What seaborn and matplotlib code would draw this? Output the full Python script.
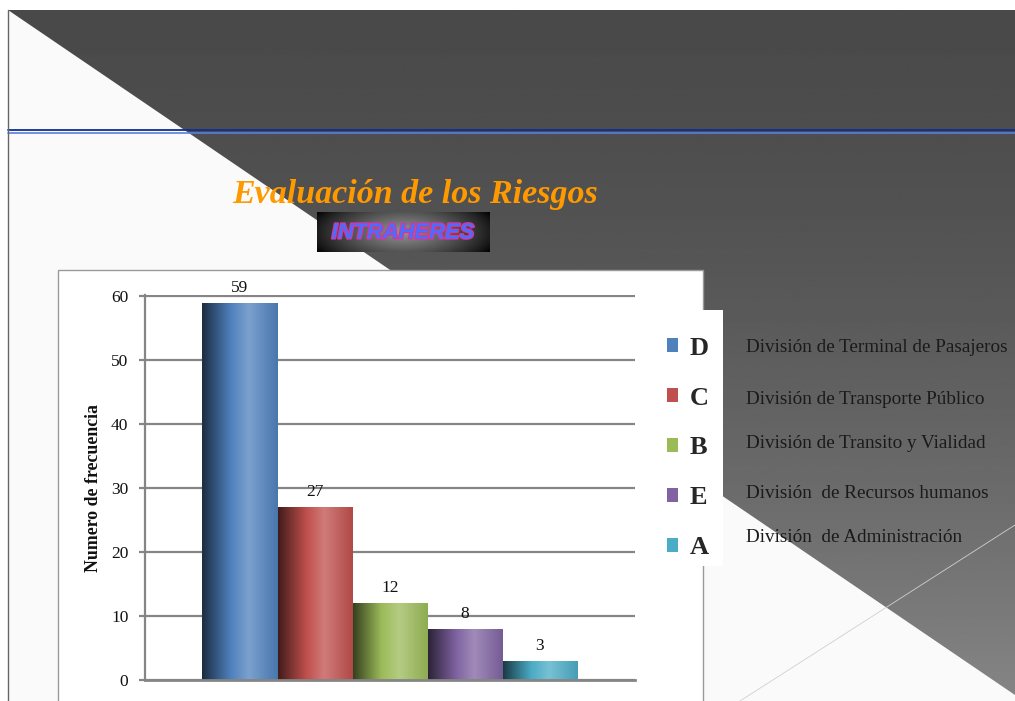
import matplotlib
matplotlib.use("Agg")
import matplotlib.pyplot as plt
import matplotlib.patheffects as pe
from matplotlib.colors import LinearSegmentedColormap, to_rgb
from matplotlib.patches import Polygon, Rectangle, Patch
import numpy as np
import pandas as pd
import seaborn as sns

# data
series = ["D", "C", "B", "E", "A"]
values = [59, 27, 12, 8, 3]
colors = ["#4f81bd", "#c0504d", "#9bbb59", "#8064a2", "#4bacc6"]
divisions = ["División de Terminal de Pasajeros",
             "División de Transporte Público",
             "División de Transito y Vialidad",
             "División  de Recursos humanos",
             "División  de Administración"]
y_ticks = [0, 10, 20, 30, 40, 50, 60]

sns.set_style("white")
plt.rcParams["font.family"] = ["Liberation Serif", "DejaVu Serif"]

W, H = 1015, 701
fig = plt.figure(figsize=(W / 100, H / 100), dpi=100)

# slide background, drawn in pixel coords
bg = fig.add_axes([0, 0, 1, 1], zorder=0)
bg.axis("off")
bg.add_patch(Rectangle((8, 10), W - 8, H - 10, facecolor="#fafafa", edgecolor="none", zorder=1))
yy = np.linspace(0, 1, 256)[:, None] * np.ones((1, 2))
shade = 0.29 + 0.23 * yy ** 1.6
grad = bg.imshow(shade, cmap="gray", vmin=0, vmax=1, extent=[8, W, 695, 10],
                 aspect="auto", interpolation="bilinear", zorder=2)
tri = Polygon([(8, 10), (W, 10), (W, 695)], closed=True, facecolor="none", edgecolor="none")
bg.add_patch(tri)
grad.set_clip_path(tri)

bg.plot([8, W], [130, 130], color="#0a2f9a", lw=1.3, zorder=3)
bg.plot([8, W], [132.5, 132.5], color="#5a7fd8", lw=1.2, zorder=3)
bg.plot([8, 8], [10, H], color="#666666", lw=1, zorder=3)
bg.plot([740, W], [H, 525], color="#d0d0d0", lw=0.6, zorder=3)

bg.text(415, 195, "Evaluación de los Riesgos", color="#ff9900", fontsize=24.5,
        fontweight="bold", fontstyle="italic", ha="center", va="center", zorder=4)

# INTRAHERES badge
gx = np.linspace(-1, 1, 200)[None, :]
gy = np.linspace(-1, 1, 50)[:, None]
badge = 0.58 * np.clip(1 - np.sqrt(0.75 * gx ** 2 + 0.25 * gy ** 2), 0, 1) ** 0.8
bg.imshow(badge, cmap="gray", vmin=0, vmax=1, extent=[317, 490, 252, 212],
          aspect="auto", interpolation="bilinear", zorder=4)
bg.text(403, 233, "INTRAHERES", fontsize=15.8, fontweight="bold", fontstyle="italic",
        family="Liberation Sans", color="#4a6cff", ha="center", va="center", zorder=5,
        path_effects=[pe.withStroke(linewidth=1.6, foreground="#e0309a")])

# chart object and legend boxes
bg.add_patch(Rectangle((58, 270), 645, 440, facecolor="white", edgecolor="#9a9a9a", lw=1, zorder=5))
bg.add_patch(Rectangle((656, 310), 67, 256, facecolor="white", edgecolor="none", zorder=5))

for txt, yp in zip(divisions, [347, 399, 443, 494, 538]):
    bg.text(746, yp, txt, fontsize=13.8, color="#1a1a1a", ha="left", va="center", zorder=6)

bg.set_xlim(0, W)
bg.set_ylim(H, 0)

# bar chart
ax = fig.add_axes([145 / W, 1 - 680 / H, 490 / W, 385 / H], zorder=1)
ax.patch.set_alpha(0)
df = pd.DataFrame({"grupo": [""] * len(series), "serie": series, "valor": values})
sns.barplot(data=df, x="grupo", y="valor", hue="serie", hue_order=series,
            palette=colors, width=375 / 490, saturation=1, legend=False,
            ax=ax, zorder=2, edgecolor="none")

# cylinder-like shading on each bar
for cont, col in zip(ax.containers, colors):
    base = np.array(to_rgb(col))
    cmap = LinearSegmentedColormap.from_list(
        "", [(0, base * 0.35), (0.38, base), (0.62, base + (1 - base) * 0.25), (1, base * 0.92)])
    for bar in cont:
        x0, w, h = bar.get_x(), bar.get_width(), bar.get_height()
        im = ax.imshow(np.linspace(0, 1, 100)[None, :], cmap=cmap, extent=[x0, x0 + w, 0, h],
                       aspect="auto", zorder=2.5, interpolation="bilinear")
        im.set_clip_path(bar)
    ax.bar_label(cont, fmt="%g", fontsize=12.5, padding=5, color="#111111")

ax.set_xlim(-0.5, 0.5)
ax.set_ylim(0, 60.2)
ax.set_yticks(y_ticks)
ax.yaxis.grid(True, color="#858585", lw=1.6)
ax.set_axisbelow(True)
for s in ["top", "right"]:
    ax.spines[s].set_visible(False)
ax.spines["left"].set_color("#858585")
ax.spines["left"].set_linewidth(1.6)
ax.spines["bottom"].set_color("#858585")
ax.spines["bottom"].set_linewidth(2)
ax.tick_params(axis="y", left=True, length=4, width=1.6, color="#858585", pad=8,
               labelsize=12.5, labelcolor="#111111", direction="out")
ax.tick_params(axis="x", bottom=False, labelbottom=False)
ax.set_xlabel("")
ax.set_ylabel("Numero de frecuencia", fontsize=12.8, fontweight="bold", color="#111111")
ax.yaxis.set_label_coords(-0.088, 0.5)

handles = [Patch(facecolor=c, edgecolor="none") for c in colors]
ax.legend(handles, series, loc="center left", bbox_to_anchor=(667 / W, 1 - 448 / H),
          bbox_transform=fig.transFigure, frameon=False,
          prop={"family": "Liberation Serif", "weight": "bold", "size": 19},
          handlelength=0.42, handleheight=0.42, handletextpad=0.45,
          labelspacing=1.02, borderpad=0, borderaxespad=0)

fig.savefig("out.png", dpi=100)
